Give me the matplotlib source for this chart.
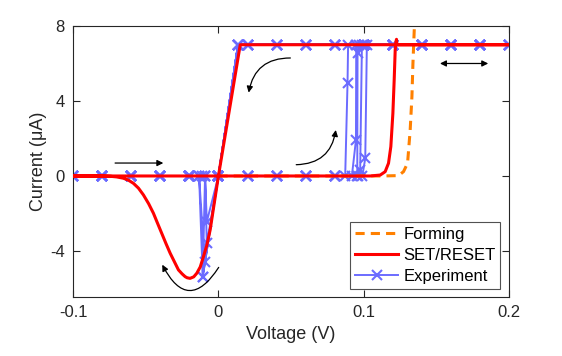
import numpy as np
import matplotlib
matplotlib.use("Agg")
import matplotlib.pyplot as plt
from matplotlib.lines import Line2D

plt.rcParams["font.family"] = ["Liberation Sans", "DejaVu Sans"]
plt.rcParams["axes.unicode_minus"] = False

# ---------------------------------------------------------------------------
# Data
# ---------------------------------------------------------------------------

# Forming curve (orange dashed), runs off the top of the axes
forming_v = [0.0, 0.05, 0.10, 0.1125, 0.1239, 0.1273, 0.1301, 0.1319, 0.1331, 0.1338, 0.1347, 0.1356]
forming_i = [0.0, 0.0, 0.0, 0.0, 0.02, 0.23, 0.68, 2.45, 4.23, 6.00, 7.79, 9.50]

# SET/RESET model (red): low state -> SET spike -> compliance -> ohmic -> RESET dip
model_v = [-0.1, 0.0, 0.09, 0.1044, 0.1113, 0.1147, 0.117, 0.1186, 0.120, 0.1209, 0.1216,
           0.1221, 0.1225, 0.1228, 0.2, 0.015, 0.0, -0.0057, -0.0080, -0.0103, -0.0125,
           -0.0149, -0.0170, -0.0195, -0.0215, -0.0229, -0.0250, -0.0275, -0.0300,
           -0.0332, -0.0360, -0.039, -0.0420, -0.0447, -0.0480, -0.0516, -0.0550,
           -0.0585, -0.0620, -0.0654, -0.0700, -0.0740, -0.0814, -0.1]
model_i = [0.0, 0.0, 0.0, 0.0, 0.05, 0.23, 0.68, 1.57, 3.34, 5.12, 6.72,
           7.16, 7.29, 7.0, 7.0, 7.0, 0.0, -2.88, -3.70, -4.30, -4.85,
           -5.19, -5.38, -5.46, -5.43, -5.37, -5.22, -5.01, -4.62,
           -4.12, -3.62, -3.06, -2.50, -1.99, -1.48, -1.01, -0.65,
           -0.39, -0.22, -0.12, -0.05, -0.02, 0.0, 0.0]

# Experiment (blue): shared sweep grid and per-cycle switching points
sweep_up_low = [0.0, 0.02, 0.04, 0.06, 0.08]
sweep_high = [0.10, 0.12, 0.14, 0.16, 0.18, 0.20, 0.18, 0.16, 0.14, 0.12, 0.10,
              0.08, 0.06, 0.04, 0.02, 0.0135]
sweep_neg = [-0.02, -0.04, -0.06, -0.08, -0.10, -0.08, -0.06, -0.04, -0.02, 0.0]

set_v = [[0.0872, 0.0888, 0.0892],
         [0.0918, 0.0946, 0.0948],
         [0.0955, 0.0957, 0.0969],
         [0.0963, 0.0975, 0.0987],
         [0.0990, 0.1010, 0.1021]]
set_i = [[0.0, 4.94, 7.0],
         [0.0, 1.92, 7.0],
         [0.0, 6.54, 7.0],
         [0.0, 0.30, 7.0],
         [0.0, 0.94, 7.0]]

reset_v = [[0.0, -0.0108, -0.0133],
           [0.0, -0.0080, -0.0092, -0.0114],
           [0.0, -0.0108, -0.0092],
           [0.0, -0.0095, -0.0133],
           [0.0, -0.0080, -0.0092, -0.0195]]
reset_i = [[0.0, -5.37, 0.0],
           [0.0, -2.44, 0.0, 0.0],
           [0.0, -5.37, 0.0],
           [0.0, -4.60, 0.0],
           [0.0, -3.60, 0.0, 0.0]]

# assemble the experimental trace cycle by cycle
exp_v, exp_i = [], []
for sv, si, rv, ri in zip(set_v, set_i, reset_v, reset_i):
    exp_v += sweep_up_low + sv + sweep_high + rv + sweep_neg
    exp_i += ([0.0] * len(sweep_up_low) + si + [7.0] * len(sweep_high)
              + ri + [0.0] * len(sweep_neg))

# ---------------------------------------------------------------------------
# Plot
# ---------------------------------------------------------------------------
AX_COL = "#262626"
BLUE = (0.42, 0.42, 1.0)

fig = plt.figure(figsize=(5.62, 3.56), dpi=100)
ax = fig.add_axes([0.130, 0.166, 0.776, 0.761])

ax.plot(exp_v, exp_i, color=BLUE, lw=1.4, marker="x", ms=6.5, mew=1.5, zorder=2)
ax.plot(forming_v, forming_i, color=(1.0, 0.5, 0.0), lw=2.2, ls=(0, (3, 2)), zorder=2.5)
ax.plot(model_v, model_i, color="red", lw=2.2, zorder=3)

# sweep direction arrows
arrow = dict(arrowstyle="-|>", color="black", lw=0.9, mutation_scale=9)
ax.annotate("", xy=(-0.036, 0.69), xytext=(-0.073, 0.69), arrowprops=arrow)
ax.annotate("", xy=(0.0205, 4.3), xytext=(0.0514, 6.29),
            arrowprops=dict(arrow, connectionstyle="arc3,rad=0.45"))
ax.annotate("", xy=(0.081, 2.6), xytext=(0.0516, 0.6),
            arrowprops=dict(arrow, connectionstyle="arc3,rad=0.45"))
ax.annotate("", xy=(-0.0395, -4.6), xytext=(0.0012, -4.75),
            arrowprops=dict(arrow, connectionstyle="arc3,rad=-0.9"))
ax.annotate("", xy=(0.1505, 6.0), xytext=(0.1875, 6.0),
            arrowprops=dict(arrowstyle="<|-|>", color="black", lw=0.9, mutation_scale=9))

ax.set_xlim(-0.1, 0.2)
ax.set_ylim(-6.45, 8)
ax.set_xticks([-0.1, 0, 0.1, 0.2])
ax.set_xticklabels(["-0.1", "0", "0.1", "0.2"])
ax.set_yticks([-4, 0, 4, 8])
ax.tick_params(direction="in", top=True, right=True, length=5, width=0.8,
               colors=AX_COL, labelsize=12, pad=6)
for s in ax.spines.values():
    s.set_color(AX_COL)
    s.set_linewidth(0.8)

ax.set_xlabel("Voltage (V)", fontsize=13, color=AX_COL)
ax.set_ylabel("Current (\u03bcA)", fontsize=13, color=AX_COL, labelpad=2)

handles = [
    Line2D([], [], color=(1.0, 0.5, 0.0), lw=2.2, ls=(0, (3, 2))),
    Line2D([], [], color="red", lw=2.2),
    Line2D([], [], color=BLUE, lw=1.4, marker="x", ms=7, mew=1.5),
]
leg = ax.legend(handles, ["Forming", "SET/RESET", "Experiment"], loc="lower right",
                bbox_to_anchor=(0.98, 0.03), fontsize=12, frameon=True, fancybox=False,
                handlelength=2.6, handletextpad=0.3, borderpad=0.3, labelspacing=0.35,
                borderaxespad=0.0)
leg.get_frame().set_edgecolor(AX_COL)
leg.get_frame().set_linewidth(0.8)

fig.savefig("out.png", dpi=100)
